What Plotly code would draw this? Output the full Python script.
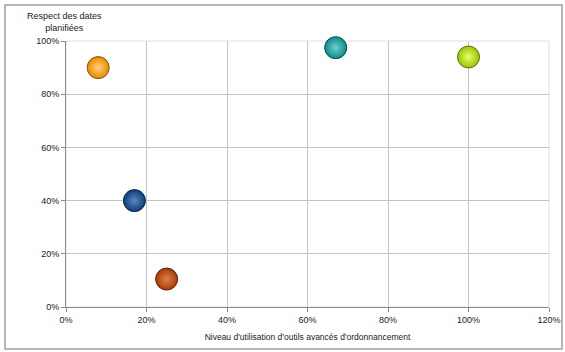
import plotly.graph_objects as go

# Niveau d'utilisation d'outils avancés (x) vs respect des dates planifiées (y)
usage = [0.08, 0.17, 0.25, 0.67, 1.00]
respect = [0.90, 0.40, 0.105, 0.975, 0.94]
colors = ["#e88a00", "#0d3f78", "#a83a08", "#0f8a8c", "#9cc400"]
highlights = ["#ffd27a", "#5a86c0", "#e0804a", "#6ad0d0", "#e2ff70"]
edge_colors = ["#8a4e00", "#06224a", "#5a1c02", "#06484a", "#5a7400"]

x_ticks = [0, 0.2, 0.4, 0.6, 0.8, 1.0, 1.2]
y_ticks = [0, 0.2, 0.4, 0.6, 0.8, 1.0]

W, H = 565, 352
L, R, T, B = 66, 16, 41, 45
PW, PH = W - L - R, H - T - B  # plot-area size in pixels

fig = go.Figure()
fig.add_trace(go.Scatter(
    x=usage, y=respect, mode="markers",
    marker=dict(
        size=22, color=colors,
        gradient=dict(type="radial", color=highlights),
        line=dict(color=edge_colors, width=1),
    ),
    hoverinfo="x+y", cliponaxis=False, showlegend=False,
))

font = dict(family="Liberation Sans, Arial, sans-serif", size=9, color="#222222")

fig.update_layout(
    width=W, height=H, autosize=False,
    margin=dict(l=L, r=R, t=T, b=B, autoexpand=False),
    paper_bgcolor="white", plot_bgcolor="white",
    font=font,
    xaxis=dict(
        range=[0, 1.2], tickvals=x_ticks, tickformat=".0%",
        showgrid=True, gridcolor="#c4c4c4", gridwidth=1,
        showline=True, linecolor="#8c8c8c", linewidth=1,
        ticks="outside", ticklen=4, tickcolor="#8c8c8c",
        zeroline=False, mirror=False, automargin=False,
        title=dict(text="Niveau d'utilisation d'outils avancés d'ordonnancement",
                   font=dict(size=8.5), standoff=10),
    ),
    yaxis=dict(
        range=[0, 1.0], tickvals=y_ticks, tickformat=".0%",
        showgrid=True, gridcolor="#c4c4c4", gridwidth=1,
        showline=True, linecolor="#8c8c8c", linewidth=1,
        ticks="outside", ticklen=4, tickcolor="#8c8c8c",
        zeroline=False, automargin=False,
    ),
    shapes=[
        # plot-area frame (top and right edges)
        dict(type="rect", xref="paper", yref="paper", x0=0, y0=0, x1=1, y1=1,
             line=dict(color="#dcdcf0", width=1), layer="below"),
        # outer chart border
        dict(type="rect", xref="paper", yref="paper",
             x0=-61 / PW, x1=1 + 13 / PW, y0=-42 / PH, y1=1 + 36 / PH,
             line=dict(color="#a0a0a0", width=1.5), layer="below"),
    ],
    annotations=[
        dict(text="Respect des dates<br>planifiées", xref="paper", yref="paper",
             x=-2 / PW, y=1 + 6 / PH, xanchor="center", yanchor="bottom",
             showarrow=False, font=dict(size=9), align="center"),
    ],
)

fig.write_html("out.html")
